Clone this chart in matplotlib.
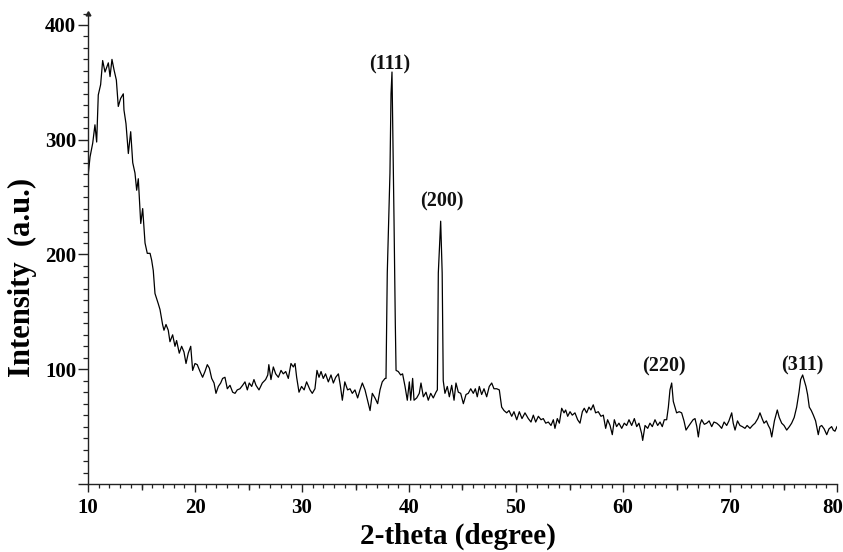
import matplotlib
matplotlib.use("Agg")
import matplotlib.pyplot as plt
from matplotlib.ticker import MultipleLocator, FuncFormatter
from matplotlib.transforms import ScaledTranslation

# ---- data (2-theta in degrees, intensity in a.u.) ----
two_theta = [
    10.0, 10.19, 10.44, 10.65, 10.81, 10.96, 11.18, 11.37, 11.59, 11.9,
    12.06, 12.24, 12.43, 12.65, 12.83, 13.05, 13.3, 13.36, 13.55, 13.77,
    13.99, 14.18, 14.39, 14.55, 14.7, 14.93, 15.11, 15.33, 15.54, 15.8,
    15.95, 16.1, 16.26, 16.57, 16.73, 16.97, 17.1, 17.29, 17.5, 17.66,
    17.91, 18.13, 18.28, 18.53, 18.75, 18.97, 19.16, 19.37, 19.6, 19.78,
    20.0, 20.21, 20.47, 20.71, 20.93, 21.15, 21.34, 21.56, 21.78, 21.96,
    22.18, 22.4, 22.58, 22.8, 23.02, 23.27, 23.52, 23.74, 23.95, 24.2,
    24.45, 24.67, 24.89, 25.07, 25.3, 25.51, 25.7, 25.98, 26.29, 26.6,
    26.8, 26.9, 27.1, 27.32, 27.54, 27.79, 28.04, 28.25, 28.48, 28.72,
    28.97, 29.19, 29.35, 29.5, 29.72, 29.96, 30.2, 30.43, 30.75, 30.96,
    31.21, 31.4, 31.59, 31.78, 31.99, 32.2, 32.46, 32.71, 32.93, 33.15,
    33.4, 33.58, 33.77, 34.0, 34.26, 34.49, 34.7, 34.95, 35.2, 35.42,
    35.64, 35.89, 36.13, 36.36, 36.57, 36.82, 37.07, 37.29, 37.5, 37.76,
    37.85, 37.97, 38.22, 38.32, 38.41, 38.5, 38.6, 38.72, 38.79, 39.0,
    39.22, 39.4, 39.63, 39.84, 40.03, 40.16, 40.34, 40.47, 40.72, 40.96,
    41.12, 41.34, 41.59, 41.8, 42.03, 42.27, 42.52, 42.65, 42.74, 42.96,
    43.1, 43.2, 43.36, 43.58, 43.77, 43.99, 44.21, 44.39, 44.61, 44.83,
    45.08, 45.33, 45.54, 45.77, 46.01, 46.2, 46.38, 46.57, 46.79, 47.01,
    47.26, 47.5, 47.73, 47.94, 48.2, 48.44, 48.66, 48.88, 49.13, 49.35,
    49.6, 49.81, 50.07, 50.31, 50.56, 50.84, 51.15, 51.4, 51.62, 51.84,
    52.09, 52.34, 52.55, 52.78, 53.02, 53.27, 53.49, 53.64, 53.86, 54.05,
    54.27, 54.49, 54.64, 54.83, 55.05, 55.26, 55.51, 55.76, 55.98, 56.2,
    56.38, 56.6, 56.82, 57.0, 57.22, 57.44, 57.69, 57.94, 58.16, 58.38,
    58.56, 58.79, 59.0, 59.19, 59.4, 59.62, 59.88, 60.12, 60.34, 60.56,
    60.81, 61.06, 61.28, 61.49, 61.74, 61.84, 62.06, 62.31, 62.52, 62.74,
    62.99, 63.24, 63.46, 63.67, 63.86, 64.08, 64.24, 64.39, 64.55, 64.7,
    65.01, 65.25, 65.48, 65.7, 65.89, 66.1, 66.33, 66.55, 66.73, 66.9,
    67.04, 67.2, 67.35, 67.6, 67.82, 68.05, 68.29, 68.5, 68.76, 69.0,
    69.22, 69.45, 69.69, 69.9, 70.16, 70.3, 70.47, 70.7, 70.93, 71.15,
    71.4, 71.6, 71.87, 72.1, 72.34, 72.6, 72.8, 73.0, 73.18, 73.4,
    73.58, 73.75, 73.9, 74.15, 74.42, 74.6, 74.83, 75.05, 75.3, 75.55,
    75.76, 76.0, 76.23, 76.45, 76.6, 76.79, 76.95, 77.1, 77.25, 77.41,
    77.6, 77.79, 78.0, 78.25, 78.4, 78.57, 78.8, 79.04, 79.25, 79.5,
    79.65, 79.81, 80.0,
]

intensity = [
    268, 285, 297, 313, 298, 339, 348, 369, 359, 367,
    355, 370, 361, 352, 329, 336, 340, 326, 314, 288,
    307, 280, 271, 256, 266, 227, 240, 210, 201, 201,
    195, 186, 166, 157, 152, 139, 134, 139, 134, 124,
    130, 120, 125, 114, 120, 115, 105, 114, 120, 99,
    105, 104, 98, 93, 98, 104, 101, 92, 88, 79,
    85, 88, 92, 93, 83, 86, 80, 79, 82, 83,
    86, 89, 82, 88, 85, 91, 86, 82, 88, 91,
    95, 104, 91, 102, 96, 93, 99, 96, 98, 92,
    105, 102, 105, 93, 80, 85, 82, 89, 82, 79,
    83, 99, 93, 98, 92, 96, 89, 95, 88, 93,
    96, 86, 73, 89, 82, 83, 79, 82, 75, 82,
    88, 82, 73, 64, 79, 75, 70, 82, 89, 92,
    92, 184, 271, 340, 359, 300, 230, 140, 99, 98,
    95, 96, 85, 73, 89, 73, 92, 73, 75, 79,
    88, 76, 80, 73, 79, 75, 80, 82, 184, 229,
    184, 90, 79, 85, 76, 86, 73, 88, 80, 79,
    70, 78, 79, 83, 79, 83, 76, 85, 78, 83,
    76, 85, 88, 83, 83, 82, 67, 64, 62, 64,
    59, 63, 56, 63, 57, 62, 57, 54, 60, 54,
    59, 56, 57, 53, 54, 51, 56, 48.5, 57, 53,
    66, 62, 64.5, 59, 63, 60, 62, 56, 53, 63,
    66, 62, 67, 64.5, 69, 62, 63, 59, 60, 48.5,
    56, 51, 43, 56, 50, 53, 48.5, 53, 51, 56,
    51, 57, 50, 53, 44, 38, 51, 48.5, 53, 50,
    56, 51, 54, 50, 56, 56, 67, 82, 88, 72,
    62, 63, 62, 55, 47, 50, 53, 56, 57, 50,
    41, 52, 56, 52, 53, 55, 50, 54, 53, 51,
    48.5, 54, 51, 55, 62, 53, 47, 55, 51, 50,
    48.5, 51, 48.5, 51, 53, 57, 62, 57, 53, 55,
    51, 48, 41, 55, 64.5, 58, 53, 51, 47, 50,
    53, 58, 67, 80, 91, 95, 90, 85, 78, 67,
    64, 60, 55, 43, 50, 51, 48, 43, 48, 50,
    47, 46, 50,
]

peak_labels = ["(111)", "(200)", "(220)", "(311)"]
peak_label_x = [38.2, 43.1, 63.85, 76.75]
peak_label_y = [366, 246, 102, 103]

x_ticks = [10, 20, 30, 40, 50, 60, 70, 80]
y_ticks = [0, 100, 200, 300, 400]

# ---- figure ----
SERIF = ["Liberation Serif", "DejaVu Serif"]
plt.rcParams["font.family"] = SERIF

fig = plt.figure(figsize=(8.43, 5.52), dpi=100)
ax = fig.add_axes([88 / 843, 1 - 484 / 552, 749 / 843, 470.5 / 552])

ax.plot(two_theta, intensity, color="black", linewidth=0.9)

ax.set_xlim(10, 80)
ax.set_ylim(0, 410)

for s in ("top", "right"):
    ax.spines[s].set_visible(False)
for s in ("left", "bottom"):
    ax.spines[s].set_color("#222222")
    ax.spines[s].set_linewidth(1.0)

ax.set_xticks(x_ticks)
ax.set_yticks(y_ticks)
ax.xaxis.set_minor_locator(MultipleLocator(1))
ax.yaxis.set_minor_locator(MultipleLocator(10))
ax.yaxis.set_major_formatter(FuncFormatter(lambda v, p: "" if v == 0 else f"{int(v)}"))

ax.tick_params(axis="x", which="major", direction="out", length=6, width=1.0,
               color="#222222", pad=4, labelsize=15)
ax.tick_params(axis="x", which="minor", direction="out", length=2.6, width=0.9,
               color="#222222")
ax.tick_params(axis="y", which="major", direction="out", length=7, width=1.0,
               color="#222222", pad=1.5, labelsize=15)
ax.tick_params(axis="y", which="minor", direction="out", length=3.6, width=0.9,
               color="#222222")
for lab in ax.get_xticklabels() + ax.get_yticklabels():
    lab.set_fontweight("bold")

# nudge the last x label so that it stays inside the picture, as in the reference
last = ax.get_xticklabels()[-1]
last.set_transform(last.get_transform() + ScaledTranslation(-4 / 100, 0, fig.dpi_scale_trans))

# medium ticks at the half-decades on the x axis
sec = ax.secondary_xaxis("bottom")
sec.set_xticks([15, 25, 35, 45, 55, 65, 75])
sec.tick_params(axis="x", which="major", direction="out", length=4, width=1.0,
                color="#222222", labelbottom=False)
sec.spines["bottom"].set_visible(False)

# half arrow head at the top of the y axis
ax.plot([0], [1], marker=(3, 0, 0), markersize=4, color="#222222",
        transform=ax.transAxes, clip_on=False)

for lab, px, py in zip(peak_labels, peak_label_x, peak_label_y):
    ax.text(px, py, lab, ha="center", va="center", fontsize=14.5,
            fontweight="bold", color="#111111")

fig.text(458 / 843, 1 - 536 / 552, "2-theta (degree)", ha="center", va="center",
         fontsize=21, fontweight="bold")
fig.text(22 / 843, 1 - 277 / 552, "Intensity  (a.u.)", ha="center", va="center",
         rotation=90, fontsize=22, fontweight="bold")

fig.savefig("out.png", dpi=100)
